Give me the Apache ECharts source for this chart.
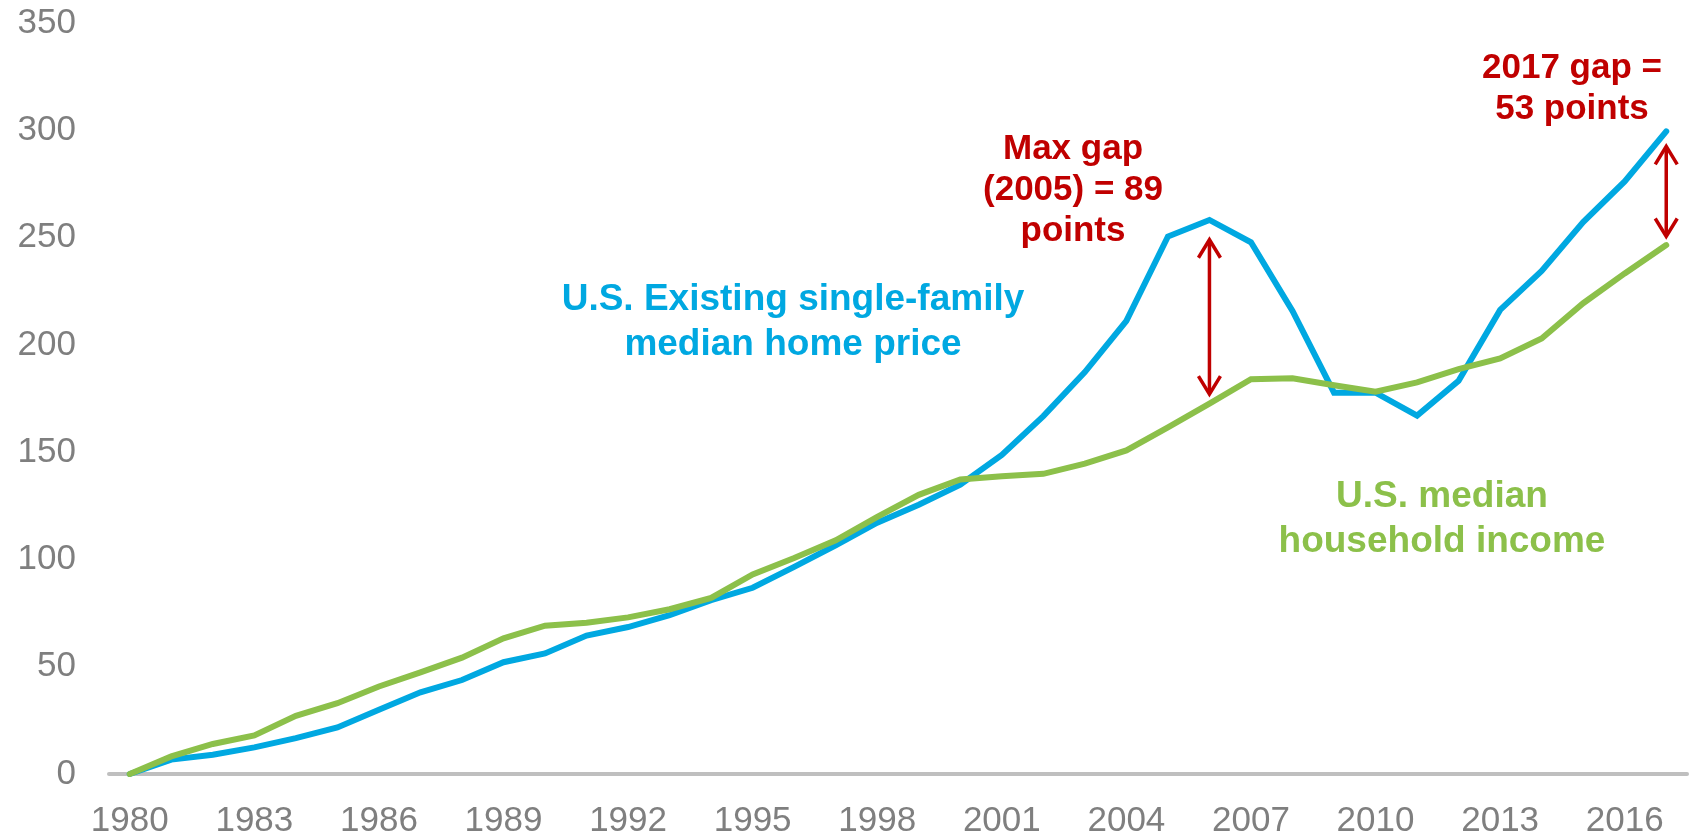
<!DOCTYPE html>
<html>
<head>
<meta charset="utf-8">
<script src="https://cdn.jsdelivr.net/npm/echarts@6/dist/echarts.min.js"></script>
<style>
  html, body { margin: 0; padding: 0; background: #ffffff; }
  #chart { width: 1691px; height: 839px; }
</style>
</head>
<body>
<div id="chart"></div>
<script>
// Years on the horizontal axis
const years = [];
for (let y = 1980; y <= 2017; y++) years.push(String(y));

// Cumulative % change since 1980
const homePrice = [0, 6.7, 9.0, 12.4, 16.7, 21.7, 29.9, 38.1, 43.8, 52.1, 56.2, 64.5, 68.5, 74.0, 81.0, 86.8, 96.5, 106.6, 117.1, 125.5, 134.8, 148.7, 166.8, 187.3, 211.2, 250.5, 258.2, 247.8, 215.8, 177.7, 177.7, 167.0, 183.3, 216.3, 234.4, 257.2, 276.2, 299.5];
const householdIncome = [0, 8.2, 14.0, 18.0, 27.1, 33.0, 40.8, 47.4, 54.2, 63.2, 69.1, 70.5, 73.0, 76.8, 82.1, 93.0, 100.7, 108.9, 119.8, 130.1, 137.3, 138.8, 139.9, 144.6, 150.8, 161.5, 172.6, 184.0, 184.4, 181.2, 178.2, 182.5, 188.7, 193.7, 203.0, 219.4, 233.3, 246.5];

// Double-headed gap markers: [year, upper value, lower value]
const gapArrows = [
  ['2006', 249, 177],
  ['2017', 292.5, 250.5]
];

const FONT = "'Liberation Sans', Arial, Helvetica, sans-serif";
const RED = '#C00000';
const BLUE = '#00A8E1';
const GREEN = '#8CC04A';

const chart = echarts.init(document.getElementById('chart'), null, { renderer: 'canvas' });

// Vertical shaft with open chevron heads at both ends
function arrowItem(params, api) {
  const idx = api.value(0);
  const top = api.coord([idx, api.value(1)]);
  const bot = api.coord([idx, api.value(2)]);
  const hw = 11, hh = 18;
  const st = { stroke: RED, lineWidth: 3.5, fill: 'none' };
  return {
    type: 'group',
    children: [
      { type: 'line', shape: { x1: top[0], y1: top[1] + 1, x2: bot[0], y2: bot[1] - 1 }, style: st },
      { type: 'polyline', shape: { points: [[top[0] - hw, top[1] + hh], [top[0], top[1]], [top[0] + hw, top[1] + hh]] }, style: st },
      { type: 'polyline', shape: { points: [[bot[0] - hw, bot[1] - hh], [bot[0], bot[1]], [bot[0] + hw, bot[1] - hh]] }, style: st }
    ]
  };
}

const option = {
  backgroundColor: '#ffffff',
  animation: false,
  grid: { left: 109, right: 4, top: 23, bottom: 63, containLabel: false },
  xAxis: {
    type: 'category',
    data: years,
    boundaryGap: true,
    axisLine: { show: true, lineStyle: { color: '#BFBFBF', width: 4 } },
    axisTick: { show: false },
    axisLabel: {
      interval: 2,
      color: '#7F7F7F',
      fontFamily: FONT,
      fontSize: 35,
      margin: 30
    },
    splitLine: { show: false }
  },
  yAxis: {
    type: 'value',
    min: 0,
    max: 350,
    interval: 50,
    axisLine: { show: false },
    axisTick: { show: false },
    splitLine: { show: false },
    axisLabel: {
      color: '#7F7F7F',
      fontFamily: FONT,
      fontSize: 35,
      margin: 33
    }
  },
  series: [
    {
      name: 'U.S. Existing single-family median home price',
      type: 'line',
      data: homePrice,
      symbol: 'none',
      lineStyle: { color: BLUE, width: 6, cap: 'round', join: 'miter' },
      z: 2
    },
    {
      name: 'U.S. median household income',
      type: 'line',
      data: householdIncome,
      symbol: 'none',
      lineStyle: { color: GREEN, width: 6, cap: 'round', join: 'miter' },
      z: 3
    },
    {
      name: 'gap',
      type: 'custom',
      data: gapArrows,
      encode: { x: 0, y: [1, 2] },
      renderItem: arrowItem,
      z: 4,
      silent: true
    }
  ],
  graphic: [
    {
      type: 'text', x: 1073, y: 128.5,
      style: {
        text: 'Max gap\n(2005) = 89\npoints',
        fill: RED, font: "bold 35px " + FONT, lineHeight: 41,
        align: 'center', verticalAlign: 'top'
      }
    },
    {
      type: 'text', x: 1572, y: 47.5,
      style: {
        text: '2017 gap =\n53 points',
        fill: RED, font: "bold 35px " + FONT, lineHeight: 41,
        align: 'center', verticalAlign: 'top'
      }
    },
    {
      type: 'text', x: 793, y: 277,
      style: {
        text: 'U.S. Existing single-family\nmedian home price',
        fill: BLUE, font: "bold 37px " + FONT, lineHeight: 45,
        align: 'center', verticalAlign: 'top'
      }
    },
    {
      type: 'text', x: 1442, y: 474,
      style: {
        text: 'U.S. median\nhousehold income',
        fill: GREEN, font: "bold 37px " + FONT, lineHeight: 45,
        align: 'center', verticalAlign: 'top'
      }
    }
  ]
};

chart.setOption(option);
</script>
</body>
</html>
